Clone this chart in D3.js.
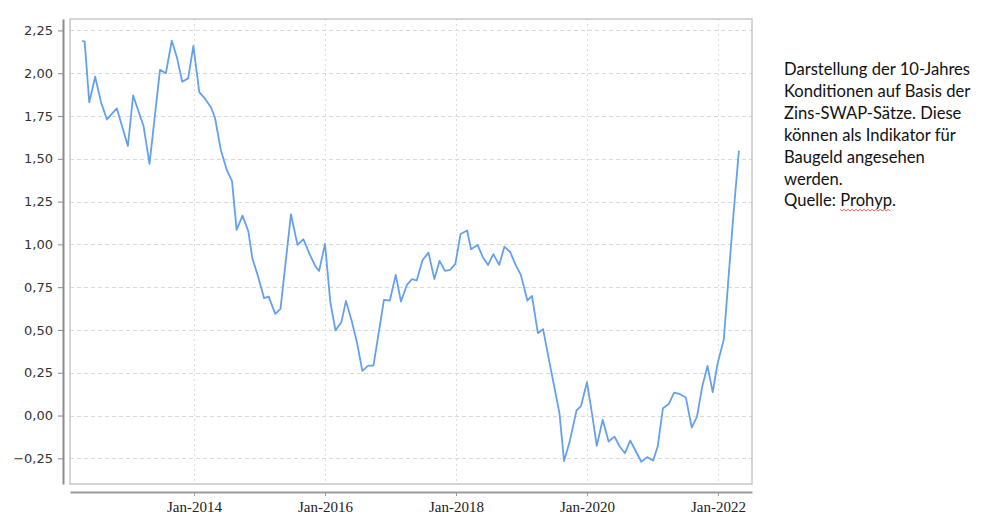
<!DOCTYPE html>
<html>
<head>
<meta charset="utf-8">
<script src="https://cdn.jsdelivr.net/npm/d3@7"></script>
<style>
    body { margin: 0; background: #fff; }
    .yAxis text { font-family: "DejaVu Sans", sans-serif; font-size: 13px; fill: #333; }
    .xAxis text { font-family: "Liberation Serif", serif; font-size: 15px; fill: #222; }
    .note { font-family: Lato, "Open Sans", sans-serif; font-size: 16.6px; fill: #111; }
</style>
</head>
<body>
<div id="chart"></div>
<script>
// decimal years
let dates = [
    2012.29, 2012.33, 2012.40, 2012.49, 2012.58, 2012.67, 2012.82, 2012.99, 2013.07, 2013.23,
    2013.32, 2013.48, 2013.57, 2013.66, 2013.74, 2013.82, 2013.91, 2013.99, 2014.08, 2014.17,
    2014.26, 2014.32, 2014.41, 2014.50, 2014.58, 2014.65, 2014.74, 2014.83, 2014.89, 2014.97,
    2015.07, 2015.14, 2015.24, 2015.32, 2015.48, 2015.58, 2015.67, 2015.77, 2015.85, 2015.91,
    2016.00, 2016.08, 2016.16, 2016.25, 2016.32, 2016.41, 2016.49, 2016.57, 2016.66, 2016.74,
    2016.90, 2016.99, 2017.08, 2017.16, 2017.25, 2017.33, 2017.40, 2017.49, 2017.58, 2017.67,
    2017.75, 2017.83, 2017.91, 2017.99, 2018.07, 2018.17, 2018.23, 2018.33, 2018.41, 2018.49,
    2018.57, 2018.66, 2018.74, 2018.83, 2018.91, 2018.99, 2019.09, 2019.16, 2019.25, 2019.33,
    2019.44, 2019.58, 2019.65, 2019.73, 2019.84, 2019.91, 2020.00, 2020.08, 2020.15, 2020.24,
    2020.33, 2020.42, 2020.50, 2020.58, 2020.66, 2020.83, 2020.92, 2021.01, 2021.08, 2021.16,
    2021.25, 2021.33, 2021.41, 2021.51, 2021.60, 2021.68, 2021.76, 2021.84, 2021.92, 2021.99,
    2022.09, 2022.16, 2022.24, 2022.32
];

let swapRates = [
    2.19, 2.185, 1.83, 1.98, 1.83, 1.73, 1.795, 1.575, 1.87, 1.69,
    1.47, 2.02, 2.00, 2.19, 2.09, 1.95, 1.97, 2.16, 1.89, 1.85,
    1.80, 1.74, 1.55, 1.435, 1.37, 1.085, 1.168, 1.075, 0.919, 0.822,
    0.686, 0.695, 0.594, 0.623, 1.176, 0.997, 1.03, 0.939, 0.874, 0.845,
    1.003, 0.666, 0.497, 0.546, 0.67, 0.549, 0.423, 0.261, 0.292, 0.292,
    0.676, 0.672, 0.822, 0.666, 0.763, 0.797, 0.789, 0.909, 0.952, 0.798,
    0.904, 0.845, 0.851, 0.886, 1.061, 1.081, 0.972, 0.997, 0.925, 0.880,
    0.943, 0.880, 0.987, 0.954, 0.880, 0.822, 0.672, 0.699, 0.481, 0.505,
    0.286, 0.014, -0.266, -0.161, 0.029, 0.057, 0.195, 0.004, -0.177, -0.025,
    -0.152, -0.123, -0.181, -0.220, -0.146, -0.270, -0.243, -0.263, -0.181, 0.043,
    0.068, 0.134, 0.127, 0.105, -0.070, -0.006, 0.169, 0.290, 0.137, 0.296,
    0.446, 0.80, 1.19, 1.548
];

let yTicks = [-0.25, 0, 0.25, 0.5, 0.75, 1, 1.25, 1.5, 1.75, 2, 2.25];
let xTicks = [2014, 2016, 2018, 2020, 2022];

let noteLines = [
    "Darstellung der 10-Jahres",
    "Konditionen auf Basis der",
    "Zins-SWAP-Sätze. Diese",
    "können als Indikator für",
    "Baugeld angesehen",
    "werden."
];

let data = dates.map(function (d, i) {
    return { t: d, v: swapRates[i] };
});

let width = 1000,
    height = 517;

let plot = { left: 70, right: 752, top: 19, bottom: 484 };

let svg = d3.select('#chart').append('svg')
    .attr('width', width)
    .attr('height', height);

let x = d3.scaleLinear()
    .domain([2012.106, 2022.52])
    .range([plot.left, plot.right]);

let y = d3.scaleLinear()
    .domain([-0.40, 2.317])
    .range([plot.bottom, plot.top]);

let de = d3.formatLocale({ decimal: ",", thousands: ".", grouping: [3], currency: ["", " €"] });
let fmt = de.format(".2f");

// GRID
svg.append('g').selectAll('line')
    .data(yTicks)
    .enter()
    .append('line')
    .attr('x1', plot.left)
    .attr('x2', plot.right)
    .attr('y1', function (d) { return Math.round(y(d)) + 0.5 })
    .attr('y2', function (d) { return Math.round(y(d)) + 0.5 })
    .attr('stroke', '#d9d9d9')
    .attr('stroke-dasharray', '4,3');

svg.append('g').selectAll('line')
    .data(xTicks)
    .enter()
    .append('line')
    .attr('x1', function (d) { return Math.round(x(d)) + 0.5 })
    .attr('x2', function (d) { return Math.round(x(d)) + 0.5 })
    .attr('y1', plot.top)
    .attr('y2', plot.bottom)
    .attr('stroke', '#dcdcdc')
    .attr('stroke-dasharray', '2,3');

// FRAME
svg.append('rect')
    .attr('x', plot.left)
    .attr('y', plot.top)
    .attr('width', plot.right - plot.left)
    .attr('height', plot.bottom - plot.top)
    .attr('fill', 'none')
    .attr('stroke', '#c8c8c8')
    .attr('stroke-width', 1.5);

// AXES
let yAxis = d3.axisLeft(y).tickValues(yTicks).tickFormat(fmt).tickSizeInner(5).tickSizeOuter(0).tickPadding(5);
let xAxis = d3.axisBottom(x).tickValues(xTicks).tickFormat(function (d) { return "Jan-" + d }).tickSizeInner(4).tickSizeOuter(0).tickPadding(3);

let gy = svg.append('g')
    .attr('class', 'yAxis')
    .attr('transform', 'translate(63,0)')
    .call(yAxis);
gy.select('.domain').attr('stroke', '#8c8c8c').attr('stroke-width', 2);
gy.selectAll('.tick line').attr('stroke', '#8c8c8c');

let gx = svg.append('g')
    .attr('class', 'xAxis')
    .attr('transform', 'translate(0,492)')
    .call(xAxis);
gx.select('.domain').attr('stroke', '#9a9a9a').attr('stroke-width', 2);
gx.selectAll('.tick line').attr('stroke', '#9a9a9a');
gx.selectAll('.tick text').attr('dy', '0.85em');

// LINE
let line = d3.line()
    .x(function (d) { return x(d.t) })
    .y(function (d) { return y(d.v) });

svg.append('path')
    .datum(data)
    .attr('d', line)
    .attr('fill', 'none')
    .attr('stroke', '#64a1ea')
    .attr('stroke-width', 1.8)
    .attr('stroke-linejoin', 'round');

// NOTE
let note = svg.append('g').attr('transform', 'translate(784,75)');

note.selectAll('text')
    .data(noteLines)
    .enter()
    .append('text')
    .attr('class', 'note')
    .attr('y', function (d, i) { return i * 21.9 })
    .text(function (d) { return d });

let last = note.append('text')
    .attr('class', 'note')
    .attr('y', noteLines.length * 21.9);
last.append('tspan').text("Quelle: ");
let src = last.append('tspan').text("Prohyp");
last.append('tspan').text(".");

// spell-check squiggle under "Prohyp"
let b = src.node().getBBox();
let zig = [];
for (let px = b.x; px <= b.x + b.width; px += 2) {
    zig.push([px, noteLines.length * 21.9 + 3 + ((px - b.x) / 2 % 2 ? 1.5 : 0)]);
}
note.append('path')
    .attr('d', d3.line()(zig))
    .attr('fill', 'none')
    .attr('stroke', '#e03030')
    .attr('stroke-width', 0.8);
</script>
</body>
</html>
